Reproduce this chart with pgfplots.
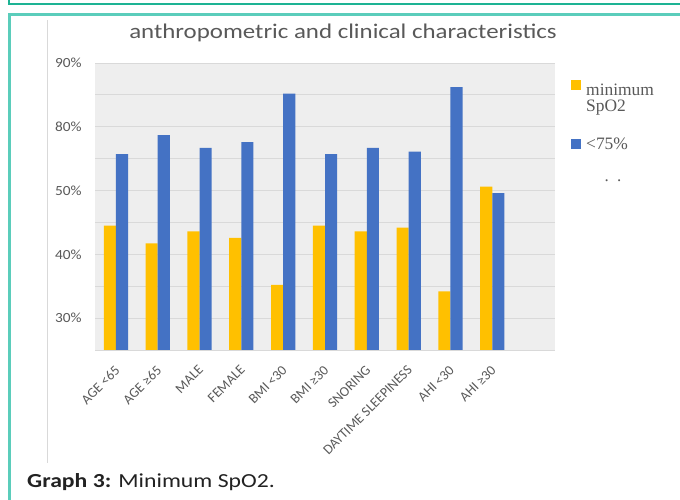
\documentclass[border=0pt]{standalone}
\usepackage{pgfplots}
\pgfplotsset{compat=1.18}
\usepackage{fontspec}
\setmainfont{Carlito}
\newfontfamily\legfont{Liberation Serif}
\definecolor{ycol}{HTML}{FFC000}
\definecolor{bcol}{HTML}{4472C4}
\definecolor{gridc}{HTML}{D9D9D9}
\definecolor{txt}{HTML}{595959}
\definecolor{capc}{HTML}{222222}
\definecolor{tealA}{HTML}{1DB394}
\definecolor{tealB}{HTML}{5BCDBB}
\definecolor{bgc}{HTML}{EEEEEE}
\begin{document}
\begin{tikzpicture}
\useasboundingbox (0bp,0bp) rectangle (680bp,-500bp);
\draw[tealA, line width=2bp] (9bp,0bp) -- (9bp,-4bp) -- (681bp,-4bp);
\draw[tealB, line width=3bp] (9.5bp,-501bp) -- (9.5bp,-14bp) -- (681bp,-14bp);
\draw[gridc, line width=1bp] (47bp,-20bp) -- (47bp,-463bp);
\node[text=txt, font=\fontsize{21}{24}\selectfont, anchor=base, xscale=1.19, inner sep=0pt] at (343bp,-38bp) {anthropometric and clinical characteristics};
\begin{axis}[
  at={(95bp,-350bp)}, anchor=south west,
  scale only axis, width=460bp, height=287bp,
  ymin=45, ymax=90, xmin=-0.5, xmax=10.5,
  ybar=0pt, bar width=0.29,
  axis background/.style={fill=bgc},
  axis line style={draw=none},
  ytick={50,55,...,90},
  yticklabels={30\%,,40\%,,50\%,,80\%,,90\%},
  xtick={0,...,9},
  xticklabels={AGE <65, AGE ≥65, MALE, FEMALE, BMI <30, BMI ≥30, SNORING, DAYTIME SLEEPINESS, AHI <30, AHI ≥30},
  major tick length=0pt,
  ymajorgrids, grid style={gridc, line width=1bp},
  yticklabel style={text=txt, font=\fontsize{14}{16}\selectfont, xscale=1.1, anchor=east, inner sep=0pt, xshift=-12bp},
  xticklabel style={text=txt, font=\fontsize{14}{16}\selectfont, xshift=-2bp, yshift=-13bp, rotate=45, anchor=north east, inner sep=1bp},
  legend style={at={(1,1)}, anchor=north west, xshift=13bp, yshift=-15bp, draw=none, fill=none,
    font=\legfont\fontsize{17.5}{16}\selectfont, text=txt, row sep=21bp, column sep=3bp,
    cells={anchor=west, align=left}},
  legend image code/.code={\fill[#1] (0bp,-4.5bp) rectangle (10bp,5bp);},
  clip=false,
]
\addplot[fill=ycol, draw=none, legend image code/.code={\fill[ycol] (0bp,8.5bp) rectangle (10bp,18bp);}] coordinates {(0,64.5) (1,61.7) (2,63.6) (3,62.6) (4,55.2) (5,64.5) (6,63.6) (7,64.2) (8,54.2) (9,70.6)};
\addplot[fill=bcol, draw=none] coordinates {(0,75.7) (1,78.7) (2,76.7) (3,77.6) (4,85.2) (5,75.7) (6,76.7) (7,76.1) (8,86.2) (9,69.6)};
\legend{{minimum\\SpO2},{<75\%}}
\draw[gridc, line width=1bp] (rel axis cs:0,0) -- (rel axis cs:1,0);
\end{axis}
\node[text=txt, font=\legfont\fontsize{17}{17}\selectfont] at (613bp,-181bp) {.\ \ .};
\node[anchor=base west, text=capc, font=\fontsize{20}{22}\selectfont, xscale=1.19, inner sep=0pt] at (27bp,-487bp) {\textbf{Graph 3:} Minimum SpO2.};
\end{tikzpicture}
\end{document}
